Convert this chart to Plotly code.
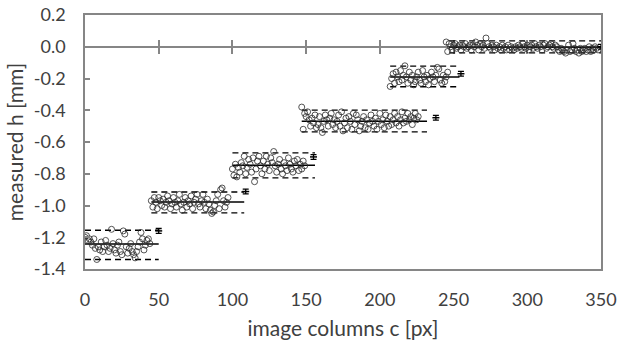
import plotly.graph_objects as go

# ---- measured heights, one value per image column, grouped by step ----
seg1_cols = list(range(0, 45))
seg1_h = [-1.20, -1.19, -1.22, -1.21, -1.23, -1.25, -1.21, -1.27, -1.34, -1.26,
          -1.28, -1.23, -1.29, -1.26, -1.22, -1.25, -1.29, -1.27, -1.15, -1.24,
          -1.28, -1.30, -1.25, -1.23, -1.29, -1.31, -1.16, -1.18, -1.26, -1.30,
          -1.27, -1.24, -1.29, -1.31, -1.33, -1.29, -1.26, -1.23, -1.17, -1.21,
          -1.28, -1.25, -1.22, -1.21, -1.24]

seg2_cols = list(range(45, 98))
seg2_h = [-0.97, -1.01, -0.95, -0.98, -1.02, -0.95, -0.97, -1.00, -0.96, -1.01,
          -0.98, -0.94, -0.97, -1.02, -0.99, -0.95, -0.98, -1.01, -0.97, -0.93,
          -0.99, -1.03, -0.98, -0.95, -1.01, -0.97, -0.99, -0.94, -1.02, -0.98,
          -0.96, -0.93, -0.99, -1.01, -0.97, -0.93, -0.98, -1.02, -0.96, -0.99,
          -1.03, -1.05, -1.04, -1.00, -0.97, -0.93, -1.02, -0.90, -0.89, -0.97,
          -1.01, -0.98, -0.95]

seg3_cols = list(range(100, 150))
seg3_h = [-0.77, -0.81, -0.74, -0.82, -0.76, -0.79, -0.73, -0.75, -0.69, -0.80,
          -0.76, -0.71, -0.74, -0.79, -0.70, -0.85, -0.77, -0.72, -0.69, -0.75,
          -0.80, -0.72, -0.77, -0.69, -0.74, -0.78, -0.70, -0.73, -0.66, -0.75,
          -0.79, -0.74, -0.71, -0.77, -0.80, -0.73, -0.75, -0.78, -0.70, -0.74,
          -0.77, -0.79, -0.72, -0.75, -0.71, -0.78, -0.74, -0.77, -0.72, -0.75]

seg4_cols = list(range(147, 227))
seg4_h = [-0.38, -0.52, -0.42, -0.44, -0.41, -0.46, -0.50, -0.45, -0.48, -0.43,
          -0.51, -0.49, -0.44, -0.51, -0.54, -0.47, -0.43, -0.46, -0.50, -0.45,
          -0.42, -0.49, -0.46, -0.51, -0.47, -0.43, -0.50, -0.41, -0.53, -0.48,
          -0.45, -0.51, -0.44, -0.47, -0.52, -0.42, -0.49, -0.43, -0.46, -0.53,
          -0.50, -0.47, -0.44, -0.51, -0.46, -0.52, -0.48, -0.43, -0.47, -0.50,
          -0.45, -0.52, -0.47, -0.42, -0.49, -0.46, -0.51, -0.43, -0.47, -0.50,
          -0.44, -0.49, -0.46, -0.42, -0.48, -0.44, -0.50, -0.46, -0.41, -0.48,
          -0.45, -0.47, -0.42, -0.46, -0.44, -0.49, -0.45, -0.42, -0.46, -0.44]

seg5_cols = list(range(207, 247))
seg5_h = [-0.25, -0.20, -0.17, -0.23, -0.16, -0.19, -0.22, -0.15, -0.21, -0.18,
          -0.12, -0.19, -0.23, -0.16, -0.21, -0.18, -0.24, -0.22, -0.19, -0.16,
          -0.21, -0.23, -0.15, -0.19, -0.22, -0.18, -0.24, -0.20, -0.16, -0.19,
          -0.22, -0.18, -0.13, -0.14, -0.21, -0.23, -0.18, -0.22, -0.19, -0.16]

seg6_cols = list(range(245, 349))
seg6_h = [0.03, -0.03, 0.02, 0.00, -0.02, 0.01, 0.02, -0.01, 0.00, 0.01,
          -0.02, 0.01, 0.00, 0.02, -0.01, 0.00, 0.01, -0.02, 0.01, 0.00,
          0.03, 0.01, -0.02, 0.02, 0.00, 0.01, -0.01, 0.055, 0.02, 0.00,
          -0.01, 0.01, 0.00, -0.02, 0.01, -0.01, 0.00, -0.02, 0.01, -0.01,
          0.00, -0.02, 0.01, -0.02, 0.00, -0.01, -0.02, 0.00, -0.01, 0.01,
          0.00, -0.01, 0.02, 0.00, -0.01, 0.01, -0.02, 0.00, 0.01, -0.01,
          0.02, 0.00, -0.01, 0.01, 0.00, -0.02, 0.01, 0.02, -0.01, 0.00,
          0.01, 0.02, 0.00, -0.01, 0.01, 0.00, -0.02, -0.03, -0.01, -0.02,
          -0.03, -0.04, -0.02, 0.01, -0.03, -0.02, 0.02, -0.01, -0.03, -0.02,
          -0.04, -0.01, -0.03, -0.02, -0.01, -0.03, -0.02, 0.00, -0.03, -0.01,
          -0.02, 0.00, -0.01, -0.02]

# ---- per-step statistics: column span, mean and band limits ----
step_start = [0, 45, 100, 147, 207, 247]
step_end = [50, 108, 156, 232, 254, 350]
step_mean = [-1.243, -0.978, -0.746, -0.469, -0.190, -0.003]
step_upper = [-1.156, -0.915, -0.669, -0.399, -0.122, 0.037]
step_lower = [-1.340, -1.047, -0.826, -0.536, -0.252, -0.038]

# ---- reference heights with their uncertainty ----
ref_col = [50, 109, 155, 238, 255, 350]
ref_h = [-1.160, -0.912, -0.694, -0.447, -0.170, 0.000]
ref_err = [0.015, 0.015, 0.015, 0.015, 0.015, 0.015]

# ---- axes ----
x_ticks = [0, 50, 100, 150, 200, 250, 300, 350]
x_labels = ["0", "50", "100", "150", "200", "250", "300", "350"]
y_ticks = [-1.4, -1.2, -1.0, -0.8, -0.6, -0.4, -0.2, 0.0, 0.2]
y_labels = ["-1.4", "-1.2", "-1.0", "-0.8", "-0.6", "-0.4", "-0.2", "0.0", "0.2"]
x_range = [0, 350]
y_range = [-1.4, 0.2]

AXIS_GREY = "#868686"
TEXT = "#404040"
FONT = "Lato"

fig = go.Figure()

# band lines (mean solid, limits dashed)
for x0, x1, m, hi, lo in zip(step_start, step_end, step_mean, step_upper, step_lower):
    for level, dash, w in ((hi, "6px,4px", 1.3), (lo, "6px,4px", 1.3), (m, "solid", 1.5)):
        fig.add_trace(go.Scatter(
            x=[x0, x1], y=[level, level], mode="lines",
            line=dict(color="black", width=w, dash=dash),
            showlegend=False, hoverinfo="skip"))

# measured points
for cols, h in ((seg1_cols, seg1_h), (seg2_cols, seg2_h), (seg3_cols, seg3_h),
                (seg4_cols, seg4_h), (seg5_cols, seg5_h), (seg6_cols, seg6_h)):
    fig.add_trace(go.Scatter(
        x=cols, y=h, mode="markers",
        marker=dict(symbol="circle-open", size=6, color="#2a2a2a",
                    line=dict(width=0.8, color="#2a2a2a")),
        showlegend=False))

# reference heights with error bars
fig.add_trace(go.Scatter(
    x=ref_col, y=ref_h, mode="markers",
    marker=dict(symbol="line-ew-open", size=5, color="black",
                line=dict(width=1.5, color="black")),
    error_y=dict(type="data", array=ref_err, visible=True,
                 color="black", thickness=1.3, width=3),
    showlegend=False))

# empty traces registering the horizontal axis drawn through h = 0
fig.add_trace(go.Scatter(x=[], y=[], xaxis="x2", showlegend=False))
fig.add_trace(go.Scatter(x=[], y=[], xaxis="x3", showlegend=False))

zero_pos = (0 - y_range[0]) / (y_range[1] - y_range[0])
zero_axis = dict(
    overlaying="x", anchor="free", position=zero_pos, side="bottom",
    range=x_range, tickvals=x_ticks[1:-1], showticklabels=False,
    showline=True, linecolor=AXIS_GREY, linewidth=1.5,
    ticklen=6, tickwidth=1.5, tickcolor=AXIS_GREY,
    showgrid=False, zeroline=False, layer="below traces", automargin=False)

fig.update_layout(
    width=617, height=343,
    margin=dict(l=85, r=16, t=15, b=74),
    paper_bgcolor="white", plot_bgcolor="white",
    font=dict(family=FONT, color=TEXT),
    xaxis=dict(
        range=x_range, tickvals=x_ticks, ticktext=x_labels,
        showline=True, mirror=True, linecolor=AXIS_GREY, linewidth=1.5,
        ticks="", showgrid=False, zeroline=False, automargin=False,
        tickfont=dict(family=FONT, size=18, color=TEXT),
        ticklabelstandoff=14,
        title=dict(text="image columns c [px]",
                   font=dict(family=FONT, size=21, color=TEXT), standoff=12)),
    xaxis2=dict(zero_axis, ticks="outside"),
    xaxis3=dict(zero_axis, ticks="inside"),
    yaxis=dict(
        range=y_range, tickvals=y_ticks, ticktext=y_labels,
        showline=True, mirror=True, linecolor=AXIS_GREY, linewidth=1.5,
        ticks="inside", ticklen=5, tickwidth=1.5, tickcolor=AXIS_GREY,
        showgrid=False, zeroline=False, automargin=False,
        tickfont=dict(family=FONT, size=18, color=TEXT),
        ticklabelstandoff=14,
        title=dict(text="measured h [mm]",
                   font=dict(family=FONT, size=21, color=TEXT), standoff=4)),
)

fig.write_html("out.html")
